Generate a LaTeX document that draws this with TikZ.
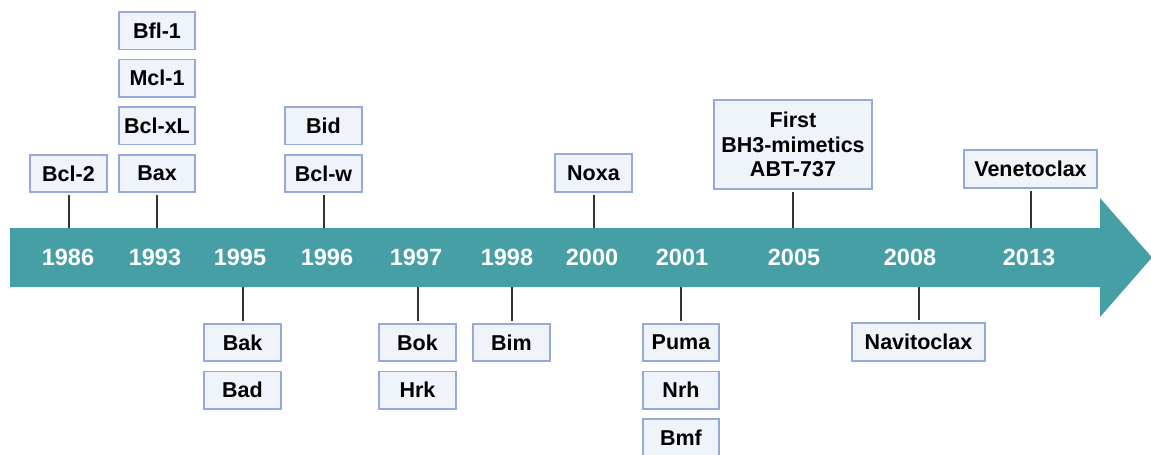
\documentclass[tikz,border=0pt]{standalone}
\usepackage{fontspec}
\setmainfont{Liberation Sans}
\usepackage{tikz}
\usetikzlibrary{positioning}
\definecolor{bandteal}{HTML}{479FA6}
\definecolor{boxfill}{HTML}{EFF4FA}
\definecolor{boxline}{HTML}{95AADA}
\definecolor{tickgray}{HTML}{333333}
\newcommand{\boxfont}{\fontsize{21.5}{24.5}\selectfont\bfseries}
\newcommand{\yrfont}{\fontsize{23.5}{26}\selectfont\bfseries}
\begin{document}
\begin{tikzpicture}[x=1pt,y=-1pt,node distance=8.5pt,
        box/.style={draw=boxline,fill=boxfill,line width=1.6pt,inner sep=0pt,
                minimum width=76.5pt,minimum height=37.5pt,font=\boxfont},
        yr/.style={text=white,font=\yrfont},
        tick/.style={draw=tickgray,line width=2pt,shorten <=2pt}]
    \useasboundingbox (0,0) rectangle (1151,455);
    \clip (0,0) rectangle (1151,455);
    % time arrow
    \fill[bandteal] (10,228) -- (1100,228) -- (1100,198) -- (1152,257.5)
        -- (1100,317) -- (1100,287) -- (10,287) -- cycle;
    \coordinate (bandtop) at (0,228);
    \coordinate (bandbot) at (0,287);
    \foreach \yr/\x in {1986/68,1993/155,1995/240,1996/327,1997/416,1998/507,
            2000/592,2001/682,2005/794,2008/910,2013/1029}
        \node[yr] (y\yr) at (\x,257) {\yr};
    % above the arrow
    \node[box] (bcl2) at (68.5,173.5) {Bcl-2};
    \node[box] (bax) at (157,173.5) {Bax};
    \node[box,above=of bax] (bclxl) {Bcl-xL};
    \node[box,above=of bclxl] (mcl1) {Mcl-1};
    \node[box,above=of mcl1] (bfl1) {Bfl-1};
    \node[box] (bclw) at (323.5,173.5) {Bcl-w};
    \node[box,above=of bclw] (bid) {Bid};
    \node[box] (noxa) at (593.5,173) {Noxa};
    \node[box,minimum width=158.5pt,minimum height=89.5pt,align=center] (abt)
        at (793,144.5) {First\\BH3-mimetics\\ABT-737};
    \node[box,minimum width=133.5pt] (veneto) at (1030.5,169) {Venetoclax};
    % below the arrow
    \node[box] (bak) at (242.5,342.5) {Bak};
    \node[box,below=of bak] (bad) {Bad};
    \node[box] (bok) at (417.5,342.5) {Bok};
    \node[box,below=of bok] (hrk) {Hrk};
    \node[box] (bim) at (511.5,342.5) {Bim};
    \node[box] (puma) at (681,342.5) {Puma};
    \node[box,below=of puma] (nrh) {Nrh};
    \node[box,below=of nrh] (bmf) {Bmf};
    \node[box,minimum width=133.5pt] (navito) at (918.5,342) {Navitoclax};
    % ticks
    \foreach \b in {bcl2,bax,bclw,noxa,abt,veneto}
        \draw[tick] (\b.south) -- (\b.south |- bandtop);
    \foreach \b in {bak,bok,bim,puma,navito}
        \draw[tick] (\b.north) -- (\b.north |- bandbot);
\end{tikzpicture}
\end{document}
